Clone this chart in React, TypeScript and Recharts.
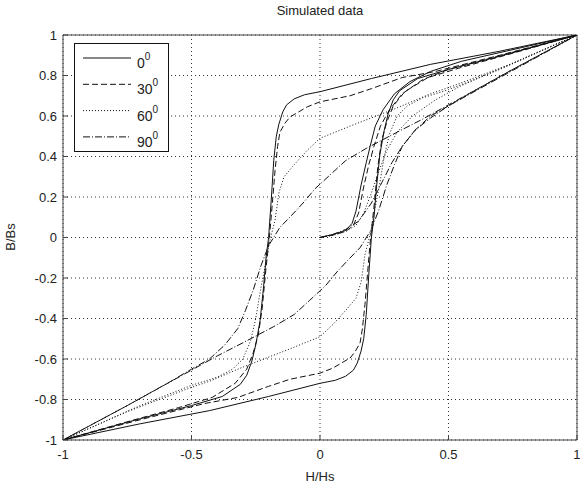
import { LineChart, Line, XAxis, YAxis, CartesianGrid, ReferenceArea } from 'recharts'

type Pt = [number, number]

const xTicks = [-1, -0.5, 0, 0.5, 1]
const yTicks = [-1, -0.8, -0.6, -0.4, -0.2, 0, 0.2, 0.4, 0.6, 0.8, 1]

// 0 deg (solid)
const init0: Pt[] = [
  [0, 0], [0.05, 0.015], [0.1, 0.035], [0.125, 0.07], [0.14, 0.13], [0.16, 0.26],
  [0.18, 0.37], [0.195, 0.45], [0.215, 0.55], [0.245, 0.63], [0.29, 0.71],
  [0.35, 0.77], [0.43, 0.82], [0.55, 0.87],
]
const upper0: Pt[] = [
  [1, 1], [0.7, 0.92], [0.43, 0.855], [0.2, 0.785], [0, 0.72], [-0.06, 0.705],
  [-0.1, 0.685], [-0.13, 0.655], [-0.145, 0.62], [-0.16, 0.56], [-0.17, 0.5],
  [-0.18, 0.38], [-0.19, 0.18], [-0.2, 0], [-0.21, -0.1], [-0.22, -0.25],
  [-0.233, -0.41], [-0.25, -0.53], [-0.265, -0.61], [-0.285, -0.68], [-0.31, -0.725],
  [-0.38, -0.785], [-0.5, -0.83], [-0.7, -0.895], [-1, -1],
]
const lower0: Pt[] = [
  [-1, -1], [-0.7, -0.92], [-0.43, -0.855], [-0.2, -0.785], [0, -0.72], [0.06, -0.705],
  [0.1, -0.685], [0.13, -0.655], [0.145, -0.62], [0.16, -0.56], [0.17, -0.5],
  [0.18, -0.38], [0.19, -0.18], [0.2, 0], [0.21, 0.1], [0.22, 0.25],
  [0.233, 0.41], [0.25, 0.53], [0.265, 0.61], [0.285, 0.68], [0.31, 0.725],
  [0.38, 0.785], [0.5, 0.83], [0.7, 0.895], [1, 1],
]

// 30 deg (dashed)
const init30: Pt[] = [
  [0, 0], [0.05, 0.012], [0.1, 0.03], [0.13, 0.06], [0.15, 0.12], [0.17, 0.25],
  [0.19, 0.36], [0.21, 0.45], [0.235, 0.55], [0.27, 0.63], [0.32, 0.71],
  [0.4, 0.78], [0.5, 0.83],
]
const upper30: Pt[] = [
  [1, 1], [0.7, 0.9], [0.45, 0.82], [0.32, 0.79], [0.2, 0.735], [0.117, 0.7],
  [0, 0.67], [-0.05, 0.645], [-0.09, 0.615], [-0.117, 0.595], [-0.136, 0.565],
  [-0.156, 0.52], [-0.165, 0.45], [-0.175, 0.33], [-0.19, 0.1], [-0.197, 0],
  [-0.21, -0.15], [-0.225, -0.35], [-0.24, -0.48], [-0.26, -0.57], [-0.285, -0.65],
  [-0.33, -0.72], [-0.42, -0.79], [-0.55, -0.84], [-0.75, -0.91], [-1, -1],
]
const lower30: Pt[] = [
  [-1, -1], [-0.7, -0.9], [-0.45, -0.82], [-0.32, -0.79], [-0.2, -0.735], [-0.117, -0.7],
  [0, -0.67], [0.05, -0.645], [0.09, -0.615], [0.117, -0.595], [0.136, -0.565],
  [0.156, -0.52], [0.165, -0.45], [0.175, -0.33], [0.19, -0.1], [0.197, 0],
  [0.21, 0.15], [0.225, 0.35], [0.24, 0.48], [0.26, 0.57], [0.285, 0.65],
  [0.33, 0.72], [0.42, 0.79], [0.55, 0.84], [0.75, 0.91], [1, 1],
]

// 60 deg (dotted)
const init60: Pt[] = [
  [0, 0], [0.05, 0.01], [0.1, 0.03], [0.14, 0.06], [0.17, 0.12], [0.2, 0.22],
  [0.23, 0.33], [0.26, 0.43], [0.3, 0.52], [0.36, 0.6], [0.45, 0.68], [0.55, 0.75],
]
const upper60: Pt[] = [
  [1, 1], [0.75, 0.86], [0.5, 0.74], [0.43, 0.71], [0.3, 0.64], [0.117, 0.55],
  [0, 0.49], [-0.05, 0.43], [-0.1, 0.36], [-0.14, 0.3], [-0.16, 0.22],
  [-0.175, 0.085], [-0.195, -0.015], [-0.215, -0.15], [-0.233, -0.27], [-0.25, -0.4],
  [-0.27, -0.51], [-0.3, -0.6], [-0.34, -0.65], [-0.4, -0.69], [-0.5, -0.73],
  [-0.7, -0.83], [-1, -1],
]
const lower60: Pt[] = [
  [-1, -1], [-0.75, -0.86], [-0.5, -0.74], [-0.43, -0.71], [-0.3, -0.64], [-0.117, -0.55],
  [0, -0.49], [0.05, -0.43], [0.1, -0.36], [0.14, -0.3], [0.16, -0.22],
  [0.175, -0.085], [0.195, 0.015], [0.215, 0.15], [0.233, 0.27], [0.25, 0.4],
  [0.27, 0.51], [0.3, 0.6], [0.34, 0.65], [0.4, 0.69], [0.5, 0.73],
  [0.7, 0.83], [1, 1],
]

// 90 deg (dash-dot)
const init90: Pt[] = [
  [0, 0], [0.05, 0.015], [0.1, 0.04], [0.15, 0.08], [0.2, 0.17], [0.24, 0.27],
  [0.28, 0.37], [0.32, 0.45], [0.37, 0.53], [0.43, 0.59], [0.5, 0.65],
]
const upper90: Pt[] = [
  [1, 1], [0.75, 0.83], [0.5, 0.655], [0.4, 0.585], [0.3, 0.52], [0.18, 0.44],
  [0.1, 0.38], [0.04, 0.31], [-0.02, 0.24], [-0.066, 0.17], [-0.11, 0.11],
  [-0.156, 0.05], [-0.2, -0.04], [-0.23, -0.14], [-0.26, -0.26], [-0.29, -0.36],
  [-0.32, -0.45], [-0.37, -0.53], [-0.43, -0.6], [-0.5, -0.65], [-0.58, -0.71],
  [-0.75, -0.83], [-1, -1],
]
const lower90: Pt[] = [
  [-1, -1], [-0.75, -0.83], [-0.5, -0.655], [-0.4, -0.585], [-0.3, -0.52], [-0.18, -0.44],
  [-0.1, -0.38], [-0.04, -0.31], [0.02, -0.24], [0.066, -0.17], [0.11, -0.11],
  [0.156, -0.05], [0.2, 0.04], [0.23, 0.14], [0.26, 0.26], [0.29, 0.36],
  [0.32, 0.45], [0.37, 0.53], [0.43, 0.6], [0.5, 0.65], [0.58, 0.71],
  [0.75, 0.83], [1, 1],
]

const angles = ['0', '30', '60', '90']
const dashes = [undefined, '6 3', '1 2', '7 2 1 2']

const toRows = (...parts: Pt[][]) => parts.flat().map(([h, b]) => ({ h, b }))

const series = [
  toRows(init0, upper0, lower0),
  toRows(init30, upper30, lower30),
  toRows(init60, upper60, lower60),
  toRows(init90, upper90, lower90),
]

const font = '"Liberation Sans", Arial, sans-serif'
const tickStyle = { fontSize: 13, fill: '#222', fontFamily: font }
const blank = () => ''

function LegendBox() {
  return (
    <svg width={96} height={110} style={{ position: 'absolute', left: 74, top: 43 }}>
      <rect x={0.5} y={0.5} width={94} height={108} fill="#fff" stroke="#111" />
      {angles.map((a, i) => {
        const y = 15 + i * 26.3
        return (
          <g key={a}>
            <line x1={9} x2={57} y1={y} y2={y} stroke="#111" strokeDasharray={dashes[i]} />
            <text x={63} y={y + 10} fontSize={14} fontFamily={font} fill="#222">
              {a}
              <tspan fontSize={10} dy={-8}>0</tspan>
            </text>
          </g>
        )
      })}
    </svg>
  )
}

export default function App() {
  return (
    <div style={{ position: 'absolute', left: 0, top: 0, width: 580, height: 484, background: '#fff', fontFamily: font }}>
      <LineChart width={580} height={484} margin={{ top: 35, right: 3, bottom: 0, left: 0 }}>
        <CartesianGrid stroke="#333" strokeDasharray="1 3" />
        <XAxis
          type="number"
          dataKey="h"
          domain={[-1, 1]}
          ticks={xTicks}
          height={44}
          axisLine={false}
          tickLine={{ stroke: '#444' }}
          tickSize={-5}
          tickMargin={15}
          tick={tickStyle}
          allowDataOverflow
        />
        <XAxis
          xAxisId="top"
          orientation="top"
          type="number"
          domain={[-1, 1]}
          ticks={xTicks}
          height={0}
          axisLine={false}
          tickLine={{ stroke: '#444' }}
          tickSize={-5}
          tickFormatter={blank}
          allowDataOverflow
        />
        <YAxis
          type="number"
          dataKey="b"
          domain={[-1, 1]}
          ticks={yTicks}
          width={63}
          axisLine={false}
          tickLine={{ stroke: '#444' }}
          tickSize={-5}
          tickMargin={11}
          tick={tickStyle}
          allowDataOverflow
        />
        <YAxis
          yAxisId="right"
          orientation="right"
          type="number"
          domain={[-1, 1]}
          ticks={yTicks}
          width={0}
          axisLine={false}
          tickLine={{ stroke: '#444' }}
          tickSize={-5}
          tickFormatter={blank}
          allowDataOverflow
        />
        {series.map((d, i) => (
          <Line
            key={angles[i]}
            data={d}
            dataKey="b"
            type="linear"
            dot={false}
            stroke="#111"
            strokeWidth={1}
            strokeDasharray={dashes[i]}
            isAnimationActive={false}
            name={angles[i]}
          />
        ))}
        <ReferenceArea x1={-1} x2={1} y1={-1} y2={1} fill="none" stroke="#444" strokeWidth={1} />
      </LineChart>
      <div style={{ position: 'absolute', left: 63, width: 514, top: 3, textAlign: 'center', fontSize: 13, color: '#222' }}>
        Simulated data
      </div>
      <div style={{ position: 'absolute', left: 63, width: 514, top: 469, textAlign: 'center', fontSize: 13, color: '#222' }}>
        H/Hs
      </div>
      <div
        style={{
          position: 'absolute', left: 10, top: 237, fontSize: 13, color: '#222',
          transform: 'translate(-50%, -50%) rotate(-90deg)', whiteSpace: 'nowrap',
        }}
      >
        B/Bs
      </div>
      <LegendBox />
    </div>
  )
}
